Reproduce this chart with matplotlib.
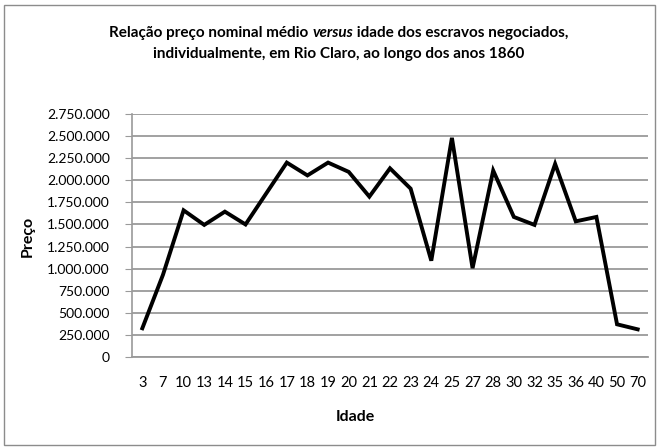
import matplotlib
matplotlib.use("Agg")
from matplotlib import pyplot as plt
from matplotlib.patches import Rectangle
from matplotlib.ticker import FuncFormatter, MultipleLocator

plt.rcParams['font.family'] = ['Lato', 'DejaVu Sans']

# idade (categorias) e preço nominal médio
idades = ['3', '7', '10', '13', '14', '15', '16', '17', '18', '19', '20', '21', '22',
          '23', '24', '25', '27', '28', '30', '32', '35', '36', '40', '50', '70']
precos = [325000, 930000, 1660000, 1495000, 1645000, 1500000, 1850000, 2200000,
          2055000, 2200000, 2095000, 1815000, 2135000, 1905000, 1090000, 2480000,
          1005000, 2110000, 1585000, 1495000, 2185000, 1535000, 1585000, 370000, 313000]

title_parts = ["Relação preço nominal médio ", "versus", " idade dos escravos negociados,"]
title_line2 = "individualmente, em Rio Claro, ao longo dos anos 1860"

W, H = 658, 448
fig = plt.figure(figsize=(W / 100, H / 100), dpi=100)
ax = fig.add_axes([132 / W, 1 - 357 / H, (648 - 132) / W, (357 - 114) / H])

x = range(len(idades))
ax.plot(x, precos, color='black', linewidth=2.8, solid_joinstyle='miter')

ax.set_xlim(-0.5, len(idades) - 0.5)
ax.set_ylim(0, 2750000)
ax.yaxis.set_major_locator(MultipleLocator(250000))
ax.yaxis.set_major_formatter(FuncFormatter(lambda v, p: f"{int(v):,}".replace(",", ".")))
ax.set_xticks(list(x))
ax.set_xticklabels(idades)

ax.grid(axis='y', color='#9a9a9a', linewidth=1.3)
ax.set_axisbelow(True)
for side in ['top', 'right']:
    ax.spines[side].set_visible(False)
ax.spines['left'].set_color('#9a9a9a')
ax.spines['bottom'].set_color('#9a9a9a')
ax.spines['left'].set_linewidth(1.2)
ax.spines['bottom'].set_linewidth(1.3)
ax.tick_params(axis='y', length=5, color='#9a9a9a', labelsize=10, pad=11)
ax.tick_params(axis='x', length=0, labelsize=10.5, pad=14)

fig.text(28 / W, 1 - 236 / H, "Preço", rotation=90, ha='center', va='center',
         fontsize=11.5, fontweight='bold')
fig.text(355 / W, 1 - 417 / H, "Idade", ha='center', va='center',
         fontsize=11.5, fontweight='bold')

# title: first line built from pieces so "versus" can be italic
cx = 339
pieces = []
for i, part in enumerate(title_parts):
    t = fig.text(0, 1 - 33 / H, part, ha='left', va='center', fontsize=11,
                 fontweight='bold', fontstyle='italic' if i == 1 else 'normal')
    pieces.append(t)
fig.canvas.draw()
r = fig.canvas.get_renderer()
widths = [t.get_window_extent(r).width for t in pieces]
pos = cx - sum(widths) / 2
for t, w in zip(pieces, widths):
    t.set_x(pos / W)
    pos += w
fig.text(cx / W, 1 - 54 / H, title_line2, ha='center', va='center', fontsize=11,
         fontweight='bold')

fig.patches.append(Rectangle((4 / W, 3 / H), 651 / W, 440 / H, transform=fig.transFigure,
                             fill=False, edgecolor='#8c8c8c', linewidth=1))

fig.savefig('out.png', dpi=100)
